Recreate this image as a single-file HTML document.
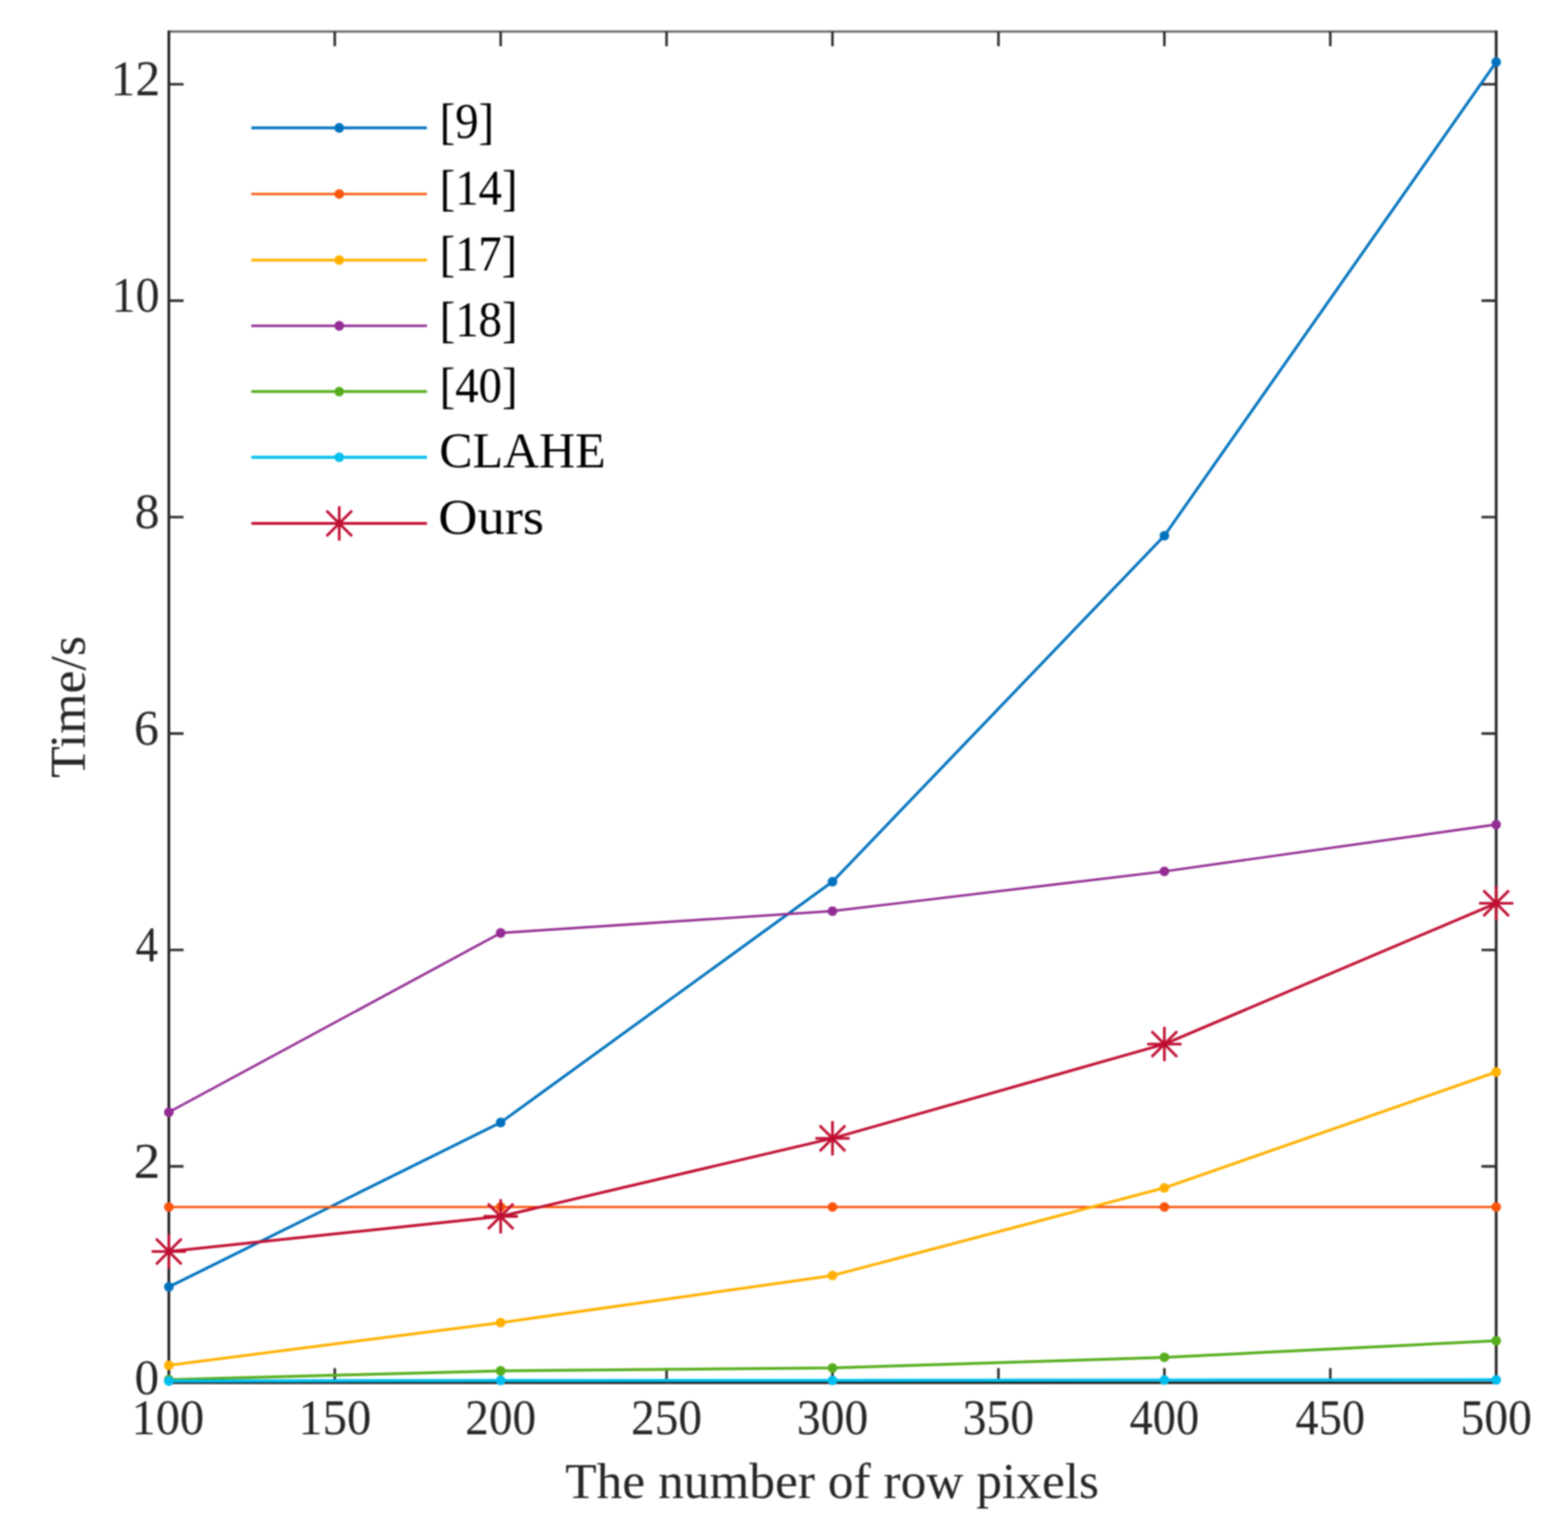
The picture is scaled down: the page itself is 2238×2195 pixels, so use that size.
<!DOCTYPE html>
<html><head><meta charset="utf-8"><title>Time vs row pixels</title>
<style>html,body{margin:0;padding:0;background:#fff;}body{width:2238px;height:2195px;overflow:hidden;}svg{display:block;filter:blur(0.8px);}text{font-family:'Liberation Serif', 'DejaVu Serif', serif;}</style></head><body>
<svg width="2238" height="2195" viewBox="0 0 2238 2195">
<rect width="2238" height="2195" fill="#ffffff"/>
<g stroke="#1f1f1f" fill="none" stroke-linecap="butt">
<path d="M239.2 45H2137.3" stroke-width="3" stroke="#5e5e5e"/>
<path d="M239.2 1973.5H2137.3" stroke-width="3.4"/>
<path d="M241 43.7V1975.2" stroke-width="3.8"/>
<path d="M2135.5 43.7V1975.2" stroke-width="3.8"/>
<path d="M477.8 45V66 M477.8 1973.5V1952.5 M714.6 45V66 M714.6 1973.5V1952.5 M951.4 45V66 M951.4 1973.5V1952.5 M1188.2 45V66 M1188.2 1973.5V1952.5 M1425.1 45V66 M1425.1 1973.5V1952.5 M1661.9 45V66 M1661.9 1973.5V1952.5 M1898.7 45V66 M1898.7 1973.5V1952.5 M241 1664.6H262 M2135.5 1664.6H2114.5 M241 1355.7H262 M2135.5 1355.7H2114.5 M241 1046.9H262 M2135.5 1046.9H2114.5 M241 738H262 M2135.5 738H2114.5 M241 429.1H262 M2135.5 429.1H2114.5 M241 120.2H262 M2135.5 120.2H2114.5" stroke-width="3.6" stroke="#2e2e2e"/>
</g>
<polyline points="241,1836.6 714.6,1602 1188.2,1258.3 1661.9,764.6 2135.5,88.7" fill="none" stroke="#0072BD" stroke-width="4.0" stroke-linejoin="round"/>
<circle cx="241" cy="1836.6" r="6.9" fill="#0072BD"/>
<circle cx="714.6" cy="1602" r="6.9" fill="#0072BD"/>
<circle cx="1188.2" cy="1258.3" r="6.9" fill="#0072BD"/>
<circle cx="1661.9" cy="764.6" r="6.9" fill="#0072BD"/>
<circle cx="2135.5" cy="88.7" r="6.9" fill="#0072BD"/>
<polyline points="241,1722.7 714.6,1722.7 1188.2,1722.7 1661.9,1722.7 2135.5,1722.7" fill="none" stroke="#F9540C" stroke-width="3.3" stroke-linejoin="round"/>
<circle cx="241" cy="1722.7" r="6.9" fill="#F9540C"/>
<circle cx="714.6" cy="1722.7" r="6.9" fill="#F9540C"/>
<circle cx="1188.2" cy="1722.7" r="6.9" fill="#F9540C"/>
<circle cx="1661.9" cy="1722.7" r="6.9" fill="#F9540C"/>
<circle cx="2135.5" cy="1722.7" r="6.9" fill="#F9540C"/>
<polyline points="241,1948.5 714.6,1887.7 1188.2,1820.4 1661.9,1695.3 2135.5,1530" fill="none" stroke="#FFB000" stroke-width="4.0" stroke-linejoin="round"/>
<circle cx="241" cy="1948.5" r="6.9" fill="#FFB000"/>
<circle cx="714.6" cy="1887.7" r="6.9" fill="#FFB000"/>
<circle cx="1188.2" cy="1820.4" r="6.9" fill="#FFB000"/>
<circle cx="1661.9" cy="1695.3" r="6.9" fill="#FFB000"/>
<circle cx="2135.5" cy="1530" r="6.9" fill="#FFB000"/>
<polyline points="241,1587.3 714.6,1331.5 1188.2,1300.3 1661.9,1243.6 2135.5,1176.8" fill="none" stroke="#922B93" stroke-width="3.4" stroke-linejoin="round"/>
<circle cx="241" cy="1587.3" r="6.9" fill="#922B93"/>
<circle cx="714.6" cy="1331.5" r="6.9" fill="#922B93"/>
<circle cx="1188.2" cy="1300.3" r="6.9" fill="#922B93"/>
<circle cx="1661.9" cy="1243.6" r="6.9" fill="#922B93"/>
<circle cx="2135.5" cy="1176.8" r="6.9" fill="#922B93"/>
<polyline points="241,1969 714.6,1956.5 1188.2,1952.3 1661.9,1937.2 2135.5,1913.5" fill="none" stroke="#55AD1C" stroke-width="4.0" stroke-linejoin="round"/>
<circle cx="241" cy="1969" r="6.9" fill="#55AD1C"/>
<circle cx="714.6" cy="1956.5" r="6.9" fill="#55AD1C"/>
<circle cx="1188.2" cy="1952.3" r="6.9" fill="#55AD1C"/>
<circle cx="1661.9" cy="1937.2" r="6.9" fill="#55AD1C"/>
<circle cx="2135.5" cy="1913.5" r="6.9" fill="#55AD1C"/>
<polyline points="241,1971 714.6,1970.2 1188.2,1970.1 1661.9,1969.6 2135.5,1969.3" fill="none" stroke="#00BEEE" stroke-width="4.4" stroke-linejoin="round"/>
<circle cx="241" cy="1971" r="6.9" fill="#00BEEE"/>
<circle cx="714.6" cy="1970.2" r="6.9" fill="#00BEEE"/>
<circle cx="1188.2" cy="1970.1" r="6.9" fill="#00BEEE"/>
<circle cx="1661.9" cy="1969.6" r="6.9" fill="#00BEEE"/>
<circle cx="2135.5" cy="1969.3" r="6.9" fill="#00BEEE"/>
<polyline points="241,1786.1 714.6,1736 1188.2,1624.6 1661.9,1490.1 2135.5,1289.1" fill="none" stroke="#C00F32" stroke-width="4.0" stroke-linejoin="round"/>
<path d="M241 1761.6V1810.6 M216.5 1786.1H265.5 M222.8 1767.9L259.2 1804.3 M222.8 1804.3L259.2 1767.9" stroke="#C00F32" stroke-width="3.8" fill="none"/>
<path d="M714.6 1711.5V1760.5 M690.1 1736H739.1 M696.4 1717.8L732.8 1754.2 M696.4 1754.2L732.8 1717.8" stroke="#C00F32" stroke-width="3.8" fill="none"/>
<path d="M1188.2 1600.1V1649.1 M1163.8 1624.6H1212.8 M1170 1606.4L1206.5 1642.8 M1170 1642.8L1206.5 1606.4" stroke="#C00F32" stroke-width="3.8" fill="none"/>
<path d="M1661.9 1465.6V1514.6 M1637.4 1490.1H1686.4 M1643.7 1471.9L1680.1 1508.3 M1643.7 1508.3L1680.1 1471.9" stroke="#C00F32" stroke-width="3.8" fill="none"/>
<path d="M2135.5 1264.6V1313.6 M2111 1289.1H2160 M2117.3 1270.9L2153.7 1307.3 M2117.3 1307.3L2153.7 1270.9" stroke="#C00F32" stroke-width="3.8" fill="none"/>
<path d="M358.7 182.5H609.4" stroke="#0072BD" stroke-width="4.0"/>
<circle cx="484.2" cy="182.5" r="6.9" fill="#0072BD"/>
<path d="M358.7 276.9H609.4" stroke="#F9540C" stroke-width="3.3"/>
<circle cx="484.2" cy="276.9" r="6.9" fill="#F9540C"/>
<path d="M358.7 371.2H609.4" stroke="#FFB000" stroke-width="4.0"/>
<circle cx="484.2" cy="371.2" r="6.9" fill="#FFB000"/>
<path d="M358.7 465H609.4" stroke="#922B93" stroke-width="3.4"/>
<circle cx="484.2" cy="465" r="6.9" fill="#922B93"/>
<path d="M358.7 558.8H609.4" stroke="#55AD1C" stroke-width="4.0"/>
<circle cx="484.2" cy="558.8" r="6.9" fill="#55AD1C"/>
<path d="M358.7 652.6H609.4" stroke="#00BEEE" stroke-width="4.4"/>
<circle cx="484.2" cy="652.6" r="6.9" fill="#00BEEE"/>
<path d="M358.7 747H609.4" stroke="#C00F32" stroke-width="4.0"/>
<path d="M484.2 722.5V771.5 M459.7 747H508.7 M466 728.8L502.4 765.2 M466 765.2L502.4 728.8" stroke="#C00F32" stroke-width="3.8" fill="none"/>
<text x="227.2" y="1989.7" font-size="72" fill="#262626" text-anchor="end" textLength="35.10" lengthAdjust="spacingAndGlyphs">0</text>
<text x="228.7" y="1680.8" font-size="72" fill="#262626" text-anchor="end" textLength="38.00" lengthAdjust="spacingAndGlyphs">2</text>
<text x="225.7" y="1371.9" font-size="72" fill="#262626" text-anchor="end" textLength="32.20" lengthAdjust="spacingAndGlyphs">4</text>
<text x="226.7" y="1063.1" font-size="72" fill="#262626" text-anchor="end" textLength="35.46" lengthAdjust="spacingAndGlyphs">6</text>
<text x="227.7" y="754.2" font-size="72" fill="#262626" text-anchor="end" textLength="35.45" lengthAdjust="spacingAndGlyphs">8</text>
<text x="227.7" y="445.3" font-size="72" fill="#262626" text-anchor="end" textLength="68.54" lengthAdjust="spacingAndGlyphs">10</text>
<text x="228.7" y="136.4" font-size="72" fill="#262626" text-anchor="end" textLength="70.85" lengthAdjust="spacingAndGlyphs">12</text>
<text x="239.5" y="2047" font-size="72" fill="#262626" text-anchor="middle" textLength="104.18" lengthAdjust="spacingAndGlyphs">100</text>
<text x="477.8" y="2047" font-size="72" fill="#262626" text-anchor="middle" textLength="104.20" lengthAdjust="spacingAndGlyphs">150</text>
<text x="714.6" y="2047" font-size="72" fill="#262626" text-anchor="middle" textLength="101.12" lengthAdjust="spacingAndGlyphs">200</text>
<text x="951.4" y="2047" font-size="72" fill="#262626" text-anchor="middle" textLength="101.14" lengthAdjust="spacingAndGlyphs">250</text>
<text x="1188.2" y="2047" font-size="72" fill="#262626" text-anchor="middle" textLength="102.12" lengthAdjust="spacingAndGlyphs">300</text>
<text x="1425.1" y="2047" font-size="72" fill="#262626" text-anchor="middle" textLength="102.12" lengthAdjust="spacingAndGlyphs">350</text>
<text x="1661.9" y="2047" font-size="72" fill="#262626" text-anchor="middle" textLength="99.17" lengthAdjust="spacingAndGlyphs">400</text>
<text x="1898.7" y="2047" font-size="72" fill="#262626" text-anchor="middle" textLength="99.17" lengthAdjust="spacingAndGlyphs">450</text>
<text x="2135.5" y="2047" font-size="72" fill="#262626" text-anchor="middle" textLength="102.14" lengthAdjust="spacingAndGlyphs">500</text>
<text x="1187.7" y="2138.2" font-size="72" fill="#262626" text-anchor="middle" textLength="761.88" lengthAdjust="spacingAndGlyphs">The number of row pixels</text>
<text x="0" y="0" font-size="72" fill="#262626" text-anchor="middle" transform="translate(120.9 1008.9) rotate(-90)" textLength="202.57" lengthAdjust="spacingAndGlyphs">Time/s</text>
<text x="627.5" y="197.3" font-size="72" fill="#000" textLength="77.72" lengthAdjust="spacingAndGlyphs">[9]</text>
<text x="627.5" y="291.7" font-size="72" fill="#000" textLength="111.24" lengthAdjust="spacingAndGlyphs">[14]</text>
<text x="627.5" y="386" font-size="72" fill="#000" textLength="110.68" lengthAdjust="spacingAndGlyphs">[17]</text>
<text x="627.5" y="479.8" font-size="72" fill="#000" textLength="111.24" lengthAdjust="spacingAndGlyphs">[18]</text>
<text x="627.5" y="573.6" font-size="72" fill="#000" textLength="111.24" lengthAdjust="spacingAndGlyphs">[40]</text>
<text x="627.1" y="667.4" font-size="72" fill="#000" textLength="237.41" lengthAdjust="spacingAndGlyphs">CLAHE</text>
<text x="625.6" y="761.8" font-size="72" fill="#000" textLength="150.97" lengthAdjust="spacingAndGlyphs">Ours</text>
</svg></body></html>
